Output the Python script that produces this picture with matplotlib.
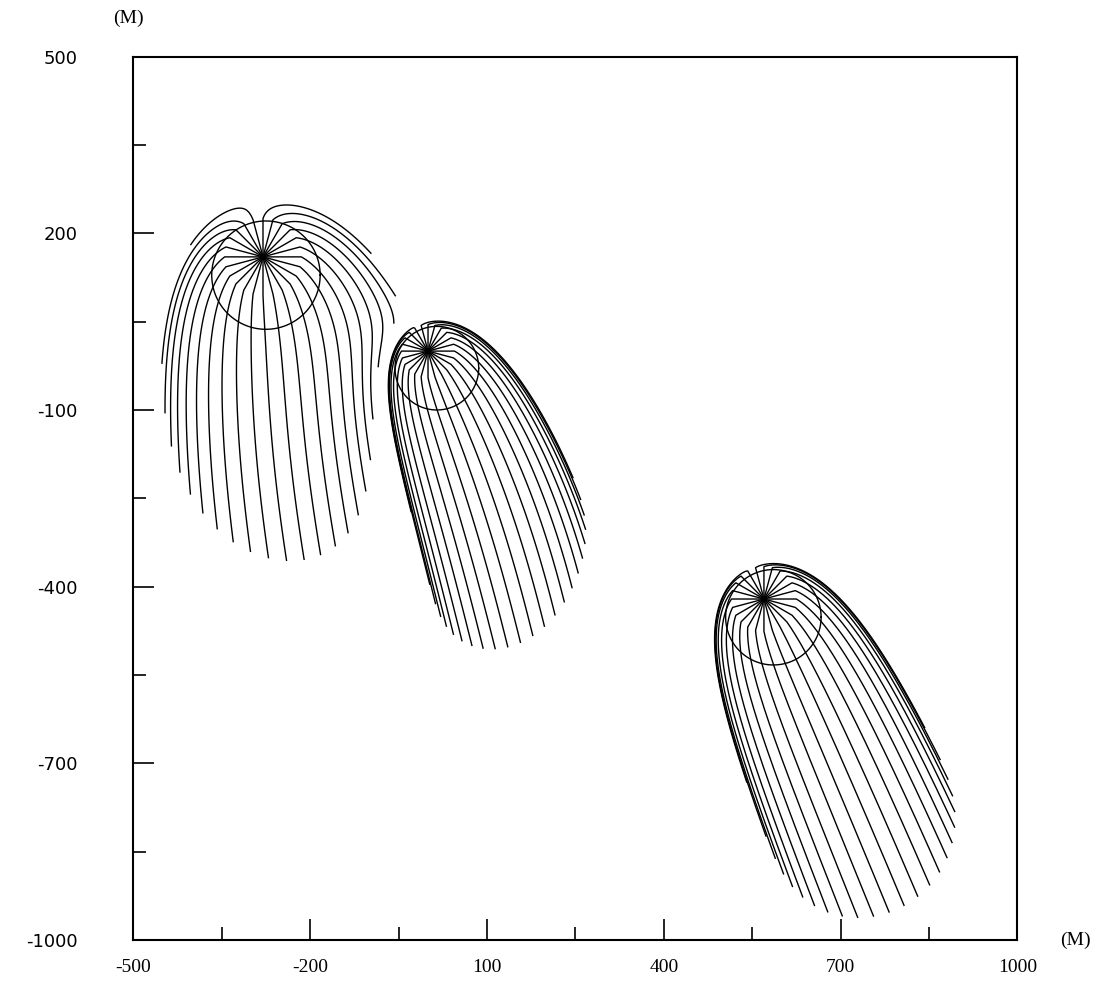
import numpy as np
import matplotlib
matplotlib.use("Agg")
import matplotlib.pyplot as plt

# ---- wells (injection points), metres -------------------------------------
SRC_X = [-280, 0, 570]
SRC_Y = [160, 0, -421]
SRC_B = [84, 55, 66]            # Q/(2*pi*U): stagnation distance of each well
N_LINES = [24, 24, 24]          # pathlines released per well
FIRST_STEP = [65, 45, 55]       # length of the first (straight) plotted step
FLOW_TILT = [19.0, 20.5, 20.5]  # regional flow near each well, degrees east of south
T_END = [360, 376, 398]         # travel time per well, in units of (m / U)

# travel-time circles drawn around each well
CIRC_X = [-275, 15, 586]
CIRC_Y = [129, -29, -452]
CIRC_R = [92, 71, 81]

X_TICKS = [-500, -200, 100, 400, 700, 1000]
X_MINOR = [-350, -50, 250, 550, 850]
Y_TICKS = [500, 200, -100, -400, -700, -1000]
Y_MINOR = [350, 50, -250, -550, -850]

src = np.column_stack([SRC_X, SRC_Y]).astype(float)
bs = np.array(SRC_B, float)


def vel(p, u0):
    v = np.tile(u0, (len(p), 1))
    for s, b in zip(src, bs):
        d = p - s
        r2 = (d ** 2).sum(axis=1)[:, None]
        v += b * d / r2
    return v


def pathlines(i):
    tilt = np.radians(FLOW_TILT[i])
    u0 = np.array([np.sin(tilt), -np.cos(tilt)])
    n = N_LINES[i]
    th = np.radians(np.arange(n) * 360.0 / n)
    dirs = np.column_stack([np.cos(th), np.sin(th)])
    p = src[i] + FIRST_STEP[i] * dirs
    t = FIRST_STEP[i] ** 2 / (2 * bs[i])
    dt = 0.5
    pts = [np.tile(src[i], (n, 1)), p.copy()]
    k = 0
    while t < T_END[i]:
        k1 = vel(p, u0)
        k2 = vel(p + 0.5 * dt * k1, u0)
        k3 = vel(p + 0.5 * dt * k2, u0)
        k4 = vel(p + dt * k3, u0)
        p = p + dt / 6 * (k1 + 2 * k2 + 2 * k3 + k4)
        t += dt
        k += 1
        if k % 6 == 0:
            pts.append(p.copy())
    pts.append(p.copy())
    return np.stack(pts, axis=1)


fig = plt.figure(figsize=(11.02, 9.82), dpi=100)
ax = fig.add_axes([0.1210, 0.0428, 0.8022, 0.8995])

for i in range(len(SRC_X)):
    for line in pathlines(i):
        ax.plot(line[:, 0], line[:, 1], color='black', lw=1.0)
    ang = np.linspace(0, 2 * np.pi, 200)
    ax.plot(CIRC_X[i] + CIRC_R[i] * np.cos(ang),
            CIRC_Y[i] + CIRC_R[i] * np.sin(ang), color='black', lw=1.0)

ax.set_xlim(-500, 1000)
ax.set_ylim(-1000, 500)
for s in ax.spines.values():
    s.set_linewidth(1.5)

ax.set_xticks(X_TICKS)
ax.set_xticks(X_MINOR, minor=True)
ax.set_yticks(Y_TICKS)
ax.set_yticks(Y_MINOR, minor=True)
ax.set_xticklabels([str(v) for v in X_TICKS], family='Liberation Serif', fontsize=14)
ax.set_yticklabels([str(v) for v in Y_TICKS], family='DejaVu Sans', fontsize=13)
ax.tick_params(which='both', direction='in', width=1.2, top=False, right=False)
ax.tick_params(which='major', length=15)
ax.tick_params(which='minor', length=9.5)
ax.tick_params(axis='x', which='major', pad=14)
ax.tick_params(axis='y', which='major', pad=40)

fig.text(128 / 1102, 1 - 18 / 982, '(M)', family='Liberation Serif', fontsize=14,
         ha='center', va='center')
fig.text(1075 / 1102, 1 - 940 / 982, '(M)', family='Liberation Serif', fontsize=14,
         ha='center', va='center')

fig.savefig('out.png', dpi=100)
